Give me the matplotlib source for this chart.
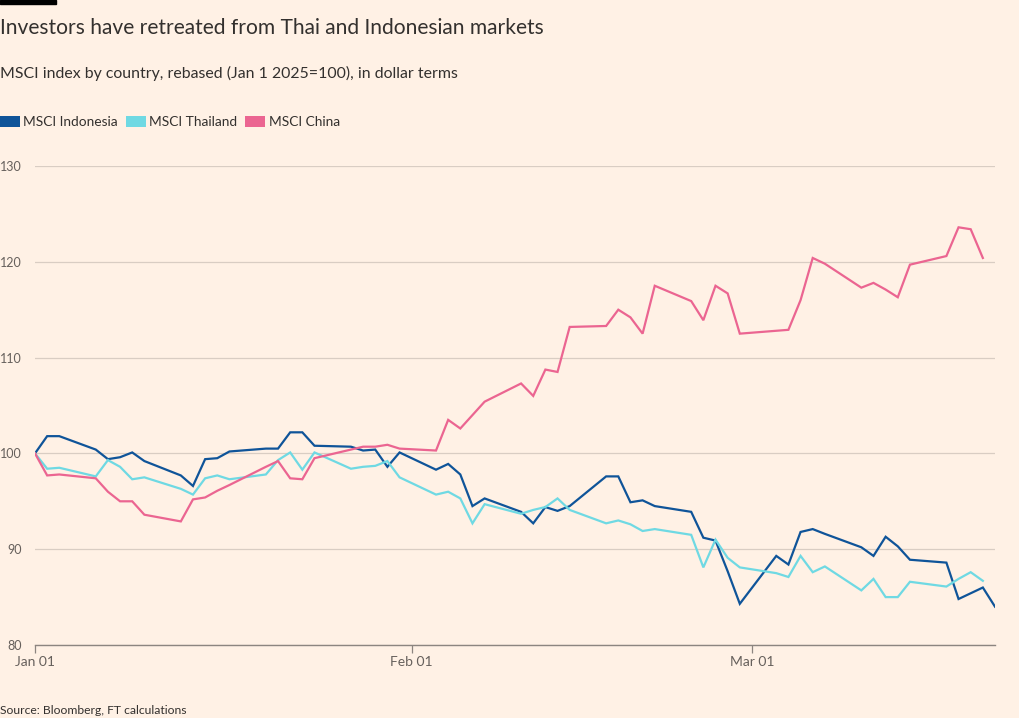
import numpy as np
import pandas as pd
import matplotlib

matplotlib.use("Agg")
import matplotlib.pyplot as plt
import matplotlib.dates as mdates
from matplotlib.patches import Patch, Rectangle

BG = "#fff1e5"
TEXT = "#33302e"
MUTED = "#66605c"
GRID = "#d9cdc3"
AXIS = "#8c8580"

SERIES_NAMES = ["MSCI Indonesia", "MSCI Thailand", "MSCI China"]
SERIES_COLORS = ["#0f5499", "#6fd9e3", "#eb6591"]

# trading days, Jan 1 - Mar 21 2025
dates = pd.to_datetime([
    "2025-01-01", "2025-01-02", "2025-01-03", "2025-01-06", "2025-01-07",
    "2025-01-08", "2025-01-09", "2025-01-10", "2025-01-13", "2025-01-14",
    "2025-01-15", "2025-01-16", "2025-01-17", "2025-01-20", "2025-01-21",
    "2025-01-22", "2025-01-23", "2025-01-24", "2025-01-27", "2025-01-28",
    "2025-01-29", "2025-01-30", "2025-01-31", "2025-02-03", "2025-02-04",
    "2025-02-05", "2025-02-06", "2025-02-07", "2025-02-10", "2025-02-11",
    "2025-02-12", "2025-02-13", "2025-02-14", "2025-02-17", "2025-02-18",
    "2025-02-19", "2025-02-20", "2025-02-21", "2025-02-24", "2025-02-25",
    "2025-02-26", "2025-02-27", "2025-02-28", "2025-03-03", "2025-03-04",
    "2025-03-05", "2025-03-06", "2025-03-07", "2025-03-10", "2025-03-11",
    "2025-03-12", "2025-03-13", "2025-03-14", "2025-03-17", "2025-03-18",
    "2025-03-19", "2025-03-20", "2025-03-21",
])

indonesia = [
    100.0, 101.8, 101.8, 100.4, 99.4,
    99.6, 100.1, 99.2, 97.7, 96.6,
    99.4, 99.5, 100.2, 100.5, 100.5,
    102.2, 102.2, 100.8, 100.7, 100.3,
    100.4, 98.6, 100.1, 98.3, 98.9,
    97.8, 94.5, 95.3, 93.9, 92.7,
    94.4, 94.0, 94.5, 97.6, 97.6,
    94.9, 95.1, 94.5, 93.9, 91.2,
    90.9, 87.7, 84.3, 89.3, 88.4,
    91.8, 92.1, 91.6, 90.2, 89.3,
    91.3, 90.3, 88.9, 88.6, 84.8,
    85.4, 86.0, 84.0,
]

thailand = [
    100.0, 98.4, 98.5, 97.6, 99.3,
    98.6, 97.3, 97.5, 96.3, 95.7,
    97.4, 97.7, 97.3, 97.8, 99.3,
    100.1, 98.3, 100.1, 98.4, 98.6,
    98.7, 99.2, 97.5, 95.7, 96.0,
    95.3, 92.7, 94.7, 93.7, 94.1,
    94.4, 95.3, 94.1, 92.7, 93.0,
    92.6, 91.9, 92.1, 91.5, 88.1,
    91.0, 89.1, 88.1, 87.5, 87.1,
    89.3, 87.6, 88.2, 85.7, 86.9,
    85.0, 85.0, 86.6, 86.1, 86.9,
    87.6, 86.7, np.nan,
]

china = [
    100.0, 97.7, 97.8, 97.4, 96.0,
    95.0, 95.0, 93.6, 92.9, 95.2,
    95.4, 96.1, 96.7, 98.6, 99.2,
    97.4, 97.3, 99.5, 100.4, 100.7,
    100.7, 100.9, 100.5, 100.3, 103.5,
    102.6, 104.0, 105.4, 107.3, 106.0,
    108.75, 108.5, 113.2, 113.3, 115.0,
    114.2, 112.5, 117.5, 115.9, 113.9,
    117.5, 116.7, 112.5, 112.8, 112.9,
    116.0, 120.4, 119.8, 117.3, 117.8,
    117.1, 116.3, 119.7, 120.6, 123.6,
    123.4, 120.4, np.nan,
]

y_ticks = [80, 90, 100, 110, 120, 130]

plt.rcParams["font.family"] = ["Lato", "DejaVu Sans"]

W, H = 1020, 718
fig = plt.figure(figsize=(W / 100, H / 100), dpi=100, facecolor=BG)
ax = fig.add_axes([35 / W, (H - 645) / H, 960 / W, 479 / H], facecolor=BG)

for values, name, color in zip([indonesia, thailand, china], SERIES_NAMES, SERIES_COLORS):
    ax.plot(dates, values, color=color, linewidth=1.6, label=name, solid_joinstyle="miter")

ax.set_xlim(pd.Timestamp("2025-01-01"), pd.Timestamp("2025-03-21"))
ax.set_ylim(80, 130)
ax.set_yticks(y_ticks)
ax.yaxis.grid(True, color=GRID, linewidth=0.9)
ax.set_axisbelow(True)
for side in ["top", "right", "left"]:
    ax.spines[side].set_visible(False)
ax.spines["bottom"].set_color(AXIS)
ax.spines["bottom"].set_linewidth(1.0)

ax.xaxis.set_major_locator(mdates.MonthLocator())
ax.xaxis.set_major_formatter(mdates.DateFormatter("%b %d"))
ax.tick_params(axis="x", length=6, width=0.9, color=AXIS, pad=2, labelsize=10, labelcolor=MUTED)
ax.tick_params(axis="y", length=0, pad=9.5, labelsize=9, labelcolor=MUTED)

fig.patches.append(Rectangle((0, 1 - 4 / H), 56 / W, 4 / H, transform=fig.transFigure,
                             color="black", zorder=10))
fig.text(0, 1 - 28 / H, "Investors have retreated from Thai and Indonesian markets",
         fontsize=15.1, color=TEXT, va="center", ha="left")
fig.text(0, 1 - 73 / H, "MSCI index by country, rebased (Jan 1 2025=100), in dollar terms",
         fontsize=11.4, color=TEXT, va="center", ha="left")
fig.text(0, 1 - 711 / H, "Source: Bloomberg, FT calculations",
         fontsize=8.75, color=TEXT, va="center", ha="left")

handles = [Patch(facecolor=c, edgecolor="none") for c in SERIES_COLORS]
fig.legend(handles, SERIES_NAMES, loc="center left", bbox_to_anchor=(0, 1 - 122 / H),
           ncol=3, frameon=False, fontsize=9.9, labelcolor=TEXT, handlelength=1.45,
           handleheight=0.8, handletextpad=0.25, columnspacing=0.58, borderaxespad=0,
           borderpad=0)

fig.savefig("out.png", dpi=100, facecolor=BG)
